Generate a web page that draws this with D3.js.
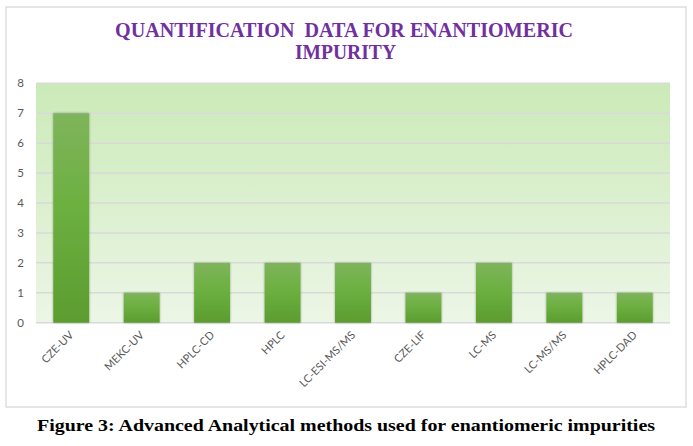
<!DOCTYPE html>
<html>
<head>
<meta charset="utf-8">
<script src="https://cdn.jsdelivr.net/npm/d3@7"></script>
<style>
body { margin: 0; background: #fff; }
svg { display: block; }
</style>
</head>
<body>
<svg id="chart" width="693" height="446"></svg>
<script>
var methods = ["CZE-UV", "MEKC-UV", "HPLC-CD", "HPLC", "LC-ESI-MS/MS", "CZE-LIF", "LC-MS", "LC-MS/MS", "HPLC-DAD"];
var counts = [7, 1, 2, 2, 2, 1, 2, 1, 1];
var yTicks = [0, 1, 2, 3, 4, 5, 6, 7, 8];
var titleLines = ["QUANTIFICATION  DATA FOR ENANTIOMERIC", "IMPURITY"];
var caption = "Figure 3: Advanced Analytical methods used for enantiomeric impurities";

var svg = d3.select("#chart");
var plotLeft = 36, plotRight = 670, plotTop = 83.3, plotBottom = 322.7;

var defs = svg.append("defs");
var bg = defs.append("linearGradient").attr("id", "bgGrad")
	.attr("x1", 0).attr("y1", 0).attr("x2", 0).attr("y2", 1);
bg.append("stop").attr("offset", "0%").attr("stop-color", "#cbeab8");
bg.append("stop").attr("offset", "100%").attr("stop-color", "#ecf6e6");
var barGrad = defs.append("linearGradient").attr("id", "barGrad")
	.attr("x1", 0).attr("y1", 0).attr("x2", 0).attr("y2", 1);
barGrad.append("stop").attr("offset", "0%").attr("stop-color", "#7fb45c");
barGrad.append("stop").attr("offset", "45%").attr("stop-color", "#6cb040");
barGrad.append("stop").attr("offset", "100%").attr("stop-color", "#5c9c2f");
var shadow = defs.append("filter").attr("id", "shadow")
	.attr("x", "-20%").attr("y", "-5%").attr("width", "140%").attr("height", "110%");
shadow.append("feDropShadow").attr("dx", 0).attr("dy", 0).attr("stdDeviation", 1.2)
	.attr("flood-color", "#000").attr("flood-opacity", 0.35);

// outer frame
svg.append("rect")
	.attr("x", 6).attr("y", 7).attr("width", 680).attr("height", 400)
	.attr("fill", "#fff").attr("stroke", "#d9d9d9").attr("stroke-width", 1.3);

var x = d3.scaleBand().domain(methods).range([plotLeft, plotRight])
	.paddingInner(0.49).paddingOuter(0.245);
var y = d3.scaleLinear().domain([0, 8]).range([plotBottom, plotTop]);

svg.append("rect")
	.attr("x", plotLeft).attr("y", plotTop)
	.attr("width", plotRight - plotLeft).attr("height", plotBottom - plotTop)
	.attr("fill", "url(#bgGrad)");

// gridlines
svg.append("g").selectAll("line").data(yTicks).join("line")
	.attr("x1", plotLeft).attr("x2", plotRight)
	.attr("y1", function(d) { return y(d); })
	.attr("y2", function(d) { return y(d); })
	.attr("stroke", "#d9d9d9").attr("stroke-width", 1.5);

// y axis labels
var yAxis = d3.axisLeft(y).tickValues(yTicks).tickSize(0).tickPadding(12);
var gy = svg.append("g").attr("transform", "translate(" + plotLeft + ",0)").call(yAxis);
gy.select(".domain").remove();
gy.selectAll("text")
	.attr("font-family", "Lato, 'Open Sans', sans-serif").attr("font-size", 11.5)
	.attr("fill", "#595959");

// bars
svg.append("g").selectAll("rect").data(counts).join("rect")
	.attr("x", function(d, i) { return x(methods[i]); })
	.attr("y", function(d) { return y(d); })
	.attr("width", x.bandwidth())
	.attr("height", function(d) { return y(0) - y(d); })
	.attr("fill", "url(#barGrad)")
	.attr("filter", "url(#shadow)");

// x axis labels
var xAxis = d3.axisBottom(x).tickSize(0).tickPadding(0);
var gx = svg.append("g").attr("transform", "translate(0," + plotBottom + ")").call(xAxis);
gx.select(".domain").remove();
gx.selectAll("text")
	.attr("font-family", "Lato, 'Open Sans', sans-serif").attr("font-size", 11)
	.attr("fill", "#595959")
	.attr("text-anchor", "end")
	.attr("dy", 0)
	.attr("y", 0)
	.attr("transform", "translate(3,13) rotate(-45)");

// title
var tw = [458, 101], tx = [115, 295], ty = [37, 59];
svg.append("g").selectAll("text").data(titleLines).join("text")
	.attr("x", function(d, i) { return tx[i]; })
	.attr("y", function(d, i) { return ty[i]; })
	.attr("textLength", function(d, i) { return tw[i]; })
	.attr("lengthAdjust", "spacingAndGlyphs")
	.attr("font-family", "'Liberation Serif', 'Times New Roman', serif")
	.attr("font-weight", "bold").attr("font-size", 20.5)
	.attr("fill", "#7030a0")
	.style("white-space", "pre")
	.text(function(d) { return d; });

// caption
svg.append("text")
	.attr("x", 37).attr("y", 431)
	.attr("textLength", 618).attr("lengthAdjust", "spacingAndGlyphs")
	.attr("font-family", "'Liberation Serif', 'Times New Roman', serif")
	.attr("font-weight", "bold").attr("font-size", 16)
	.attr("fill", "#000")
	.text(caption);
</script>
</body>
</html>
